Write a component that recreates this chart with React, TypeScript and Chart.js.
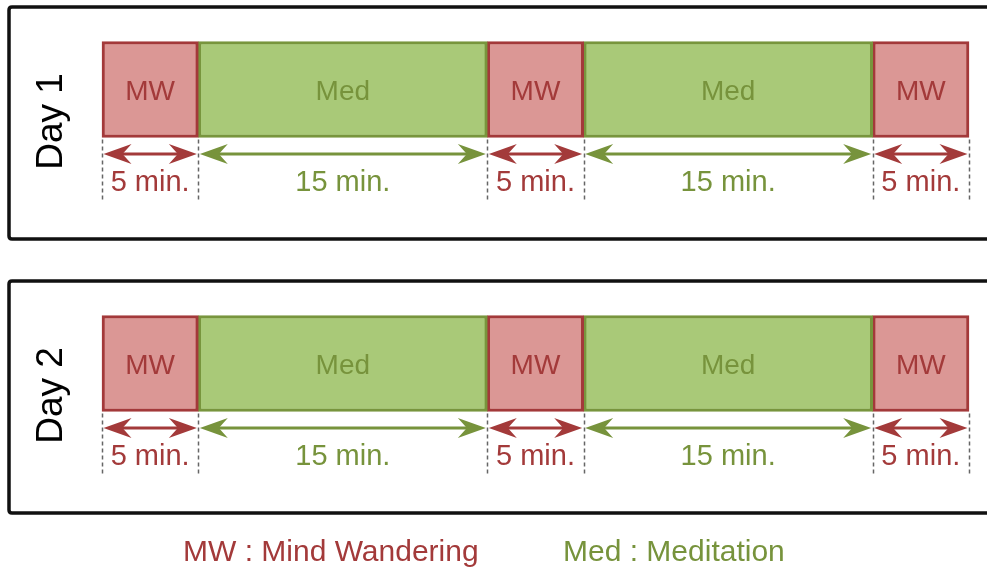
import React, { useEffect, useRef } from "react";
import { Chart, registerables } from "chart.js";

Chart.register(...registerables);

// ---- data ----
const days = ["Day 1", "Day 2"];
const segmentNames = ["MW", "Med", "MW", "Med", "MW"];
const segmentMinutes = [5, 15, 5, 15, 5];
const legendLabels = ["MW : Mind Wandering", "Med : Meditation"];

// ---- styles ----
const FONT = '"Liberation Sans", Arial, sans-serif';
const STYLE: Record<string, { fill: string; border: string; text: string }> = {
  MW: { fill: "#DB9795", border: "#A3393A", text: "#A33A3A" },
  Med: { fill: "#A9C978", border: "#78953D", text: "#77933C" },
};

const starts: number[] = [];
segmentMinutes.reduce((acc, m) => {
  starts.push(acc);
  return acc + m;
}, 0);
const total = segmentMinutes.reduce((a, b) => a + b, 0);

function drawHead(ctx: CanvasRenderingContext2D, tipX: number, y: number, dir: number) {
  const len = 28;
  const half = 10;
  const notch = 9;
  ctx.beginPath();
  ctx.moveTo(tipX, y);
  ctx.lineTo(tipX + dir * len, y - half);
  ctx.lineTo(tipX + dir * (len - notch), y);
  ctx.lineTo(tipX + dir * len, y + half);
  ctx.closePath();
  ctx.fill();
}

const overlayPlugin = {
  id: "overlay",
  beforeDraw(chart: any) {
    const ctx: CanvasRenderingContext2D = chart.ctx;
    const yScale = chart.scales.y;
    ctx.save();
    ctx.fillStyle = "#ffffff";
    ctx.fillRect(0, 0, chart.width, chart.height);
    days.forEach((day, i) => {
      const cy = yScale.getPixelForValue(i);
      // panel box
      ctx.strokeStyle = "#111111";
      ctx.lineWidth = 3.5;
      ctx.beginPath();
      const top = cy - 82.5;
      const bottom = cy + 149.5;
      ctx.moveTo(1000, top);
      ctx.lineTo(12, top);
      ctx.quadraticCurveTo(9, top, 9, top + 3);
      ctx.lineTo(9, bottom - 3);
      ctx.quadraticCurveTo(9, bottom, 12, bottom);
      ctx.lineTo(1000, bottom);
      ctx.stroke();
      // day label
      ctx.save();
      ctx.translate(62, cy + 32);
      ctx.rotate(-Math.PI / 2);
      ctx.fillStyle = "#000000";
      ctx.font = `37px ${FONT}`;
      ctx.textAlign = "center";
      ctx.textBaseline = "alphabetic";
      ctx.fillText(day, 0, 0);
      ctx.restore();
    });
    ctx.restore();
  },
  afterDatasetsDraw(chart: any) {
    const ctx: CanvasRenderingContext2D = chart.ctx;
    const xScale = chart.scales.x;
    const yScale = chart.scales.y;
    ctx.save();
    days.forEach((_, i) => {
      const cy = yScale.getPixelForValue(i);
      // dashed boundary lines
      ctx.strokeStyle = "#666666";
      ctx.lineWidth = 1.5;
      ctx.setLineDash([4, 3]);
      const bounds = [...starts, total];
      bounds.forEach((v) => {
        const x = Math.round(xScale.getPixelForValue(v)) + 0.5;
        ctx.beginPath();
        ctx.moveTo(x, cy + 50);
        ctx.lineTo(x, cy + 111);
        ctx.stroke();
      });
      ctx.setLineDash([]);
      segmentNames.forEach((name, s) => {
        const st = STYLE[name];
        const x0 = xScale.getPixelForValue(starts[s]);
        const x1 = xScale.getPixelForValue(starts[s] + segmentMinutes[s]);
        const xm = (x0 + x1) / 2;
        // name in bar
        ctx.fillStyle = st.text;
        ctx.font = `28px ${FONT}`;
        ctx.textAlign = "center";
        ctx.textBaseline = "alphabetic";
        ctx.fillText(name, xm, cy + 10);
        // arrow
        const ay = cy + 64.5;
        const a0 = x0 + 1.5;
        const a1 = x1 - 1.5;
        ctx.strokeStyle = st.text;
        ctx.fillStyle = st.text;
        ctx.lineWidth = 3;
        ctx.beginPath();
        ctx.moveTo(a0 + 12, ay);
        ctx.lineTo(a1 - 12, ay);
        ctx.stroke();
        drawHead(ctx, a0, ay, 1);
        drawHead(ctx, a1, ay, -1);
        // minutes label
        ctx.font = `29px ${FONT}`;
        ctx.fillText(`${segmentMinutes[s]} min.`, xm, cy + 101.5);
      });
    });
    // legend
    ctx.font = `30px ${FONT}`;
    ctx.textAlign = "left";
    ctx.textBaseline = "alphabetic";
    ctx.fillStyle = STYLE.MW.text;
    ctx.fillText(legendLabels[0], 183, 561);
    ctx.fillStyle = STYLE.Med.text;
    ctx.fillText(legendLabels[1], 563, 561);
    ctx.restore();
  },
};

export default function App() {
  const ref = useRef<HTMLCanvasElement | null>(null);
  useEffect(() => {
    if (!ref.current) return;
    const datasets = segmentNames.map((name, s) => ({
      label: name,
      data: days.map(() => [starts[s], starts[s] + segmentMinutes[s]]),
      backgroundColor: STYLE[name].fill,
      borderColor: STYLE[name].border,
      borderWidth: 3,
      borderSkipped: false as const,
      barThickness: 96,
      grouped: false,
      clip: false as any,
    }));
    const chart = new Chart(ref.current, {
      type: "bar",
      data: { labels: days, datasets: datasets as any },
      plugins: [overlayPlugin],
      options: {
        indexAxis: "y",
        animation: false,
        responsive: false,
        layout: { padding: { left: 102, right: 18, top: 89.5, bottom: 203.5 } },
        scales: {
          x: { type: "linear", min: 0, max: total, display: false },
          y: { type: "category", offset: false, display: false, grid: { display: false } },
        },
        plugins: {
          legend: { display: false },
          tooltip: { enabled: false },
        },
      },
    });
    return () => chart.destroy();
  }, []);
  return (
    <div style={{ position: "fixed", left: 0, top: 0, width: 987, height: 567, background: "#fff" }}>
      <canvas ref={ref} width={987} height={567} style={{ display: "block" }} />
    </div>
  );
}
